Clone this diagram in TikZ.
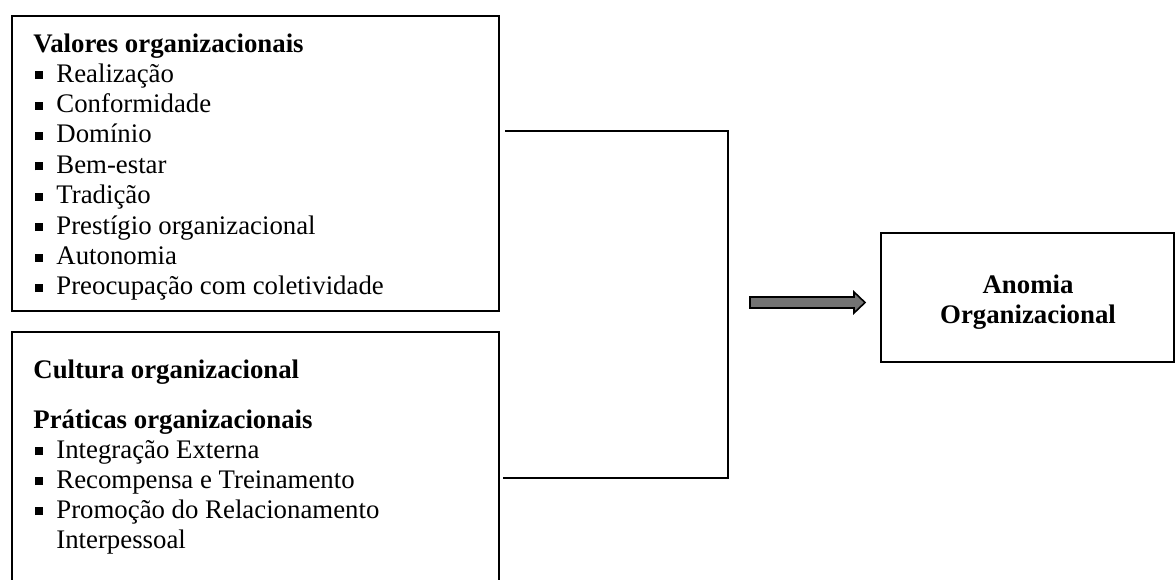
\documentclass[tikz,border=0pt]{standalone}
\usepackage{fontspec}
\setmainfont{Liberation Serif}
\newcommand{\sqbul}{\makebox[10.5pt][l]{\raisebox{1.4pt}{\rule{4pt}{4pt}}}}
\begin{document}
\begin{tikzpicture}[x=0.5pt,y=-0.5pt,
  box/.style={draw=black, line width=1.1pt, inner sep=0pt},
  line/.style={anchor=base west, inner sep=0pt, font=\fontsize{13.4}{15}\selectfont},
  head/.style={line, font=\fontsize{13.4}{15}\selectfont\bfseries},
  conn/.style={draw=black, line width=1pt}]
\useasboundingbox (0,0) rectangle (1176,579);
\clip (0,0) rectangle (1176,579);
% boxes
\node[box, minimum width=243.5pt, minimum height=147.5pt] (b1) at (255.5,163.5) {};
\node[box, minimum width=243.5pt, minimum height=130pt] (b2) at (255.5,462) {};
\node[box, minimum width=146.5pt, minimum height=64.5pt] (b3) at (1027.5,297.5) {};
% box 1 text
\node[head] (t1) at (33,52) {Valores organizacionais};
\node[line] (l1) at (35,82) {\sqbul Realização};
\node[line] (l2) at (35,112.4) {\sqbul Conformidade};
\node[line] (l3) at (35,142.8) {\sqbul Domínio};
\node[line] (l4) at (35,173.2) {\sqbul Bem-estar};
\node[line] (l5) at (35,203.6) {\sqbul Tradição};
\node[line] (l6) at (35,234) {\sqbul Prestígio organizacional};
\node[line] (l7) at (35,264.4) {\sqbul Autonomia};
\node[line] (l8) at (35,294.8) {\sqbul Preocupação com coletividade};
% box 2 text
\node[head] (t2) at (33,378) {Cultura organizacional};
\node[head] (t3) at (33,428) {Práticas organizacionais};
\node[line] (m1) at (35,458) {\sqbul Integração Externa};
\node[line] (m2) at (35,488) {\sqbul Recompensa e Treinamento};
\node[line] (m3) at (35,518) {\sqbul Promoção do Relacionamento};
\node[line] (m4) at (56,548) {Interpessoal};
% box 3 text
\node[font=\fontsize{13.4}{15}\selectfont\bfseries, align=center, inner sep=0pt] (t4) at (1028,302) {Anomia\\Organizacional};
% connectors
\coordinate (j1) at (728,131);
\coordinate (j2) at (728,478);
\draw[conn, line cap=rect] ([xshift=3pt]b1.east |- j1) -- (j1) -- (j2) -- ([xshift=2pt]b2.east |- j2);
% block arrow
\filldraw[draw=black, line width=0.8pt, fill=black!55, line join=miter]
  (750,297) -- (854,297) -- (854,292) -- (865,302.5) -- (854,313) -- (854,308) -- (750,308) -- cycle;
\end{tikzpicture}
\end{document}
